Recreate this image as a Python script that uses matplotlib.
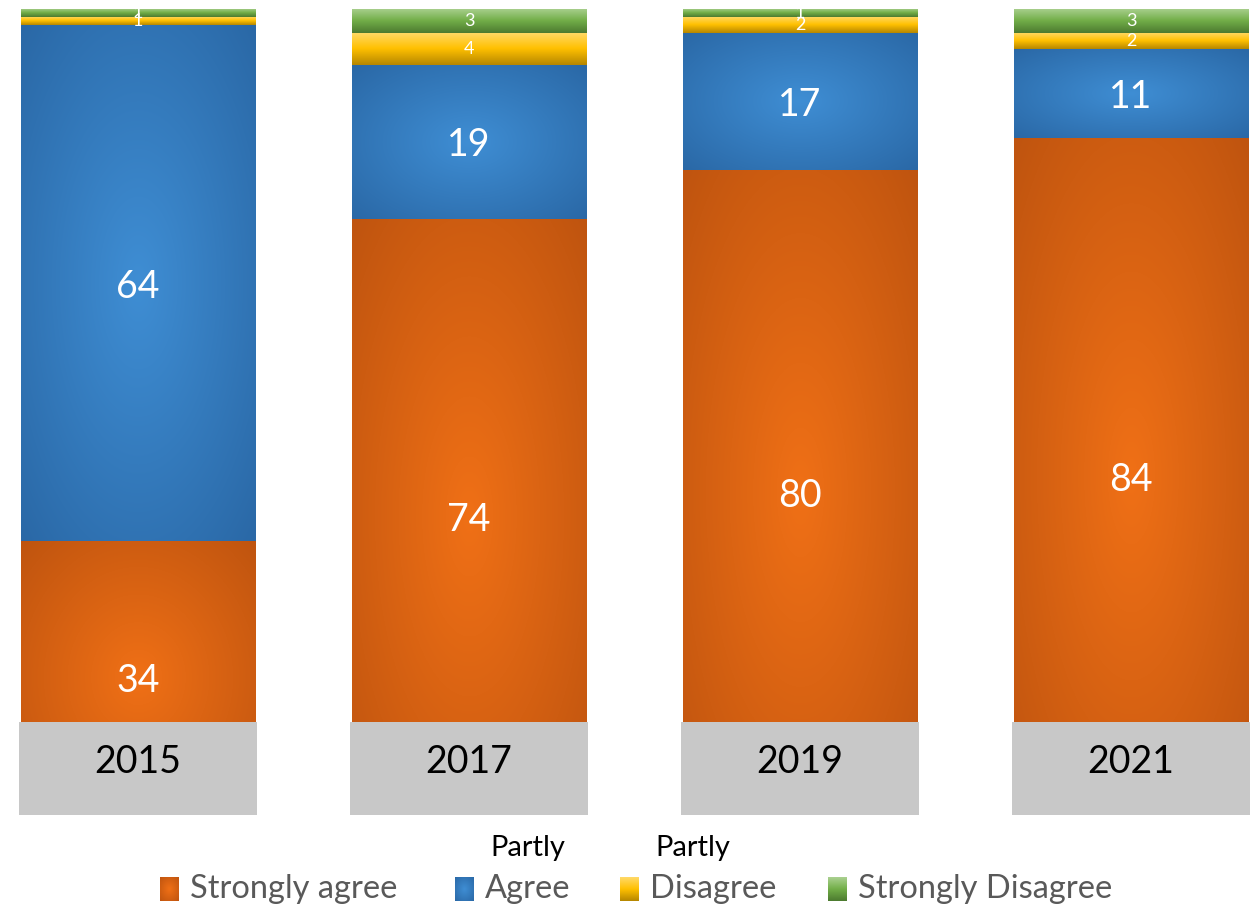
import numpy as np
import matplotlib.pyplot as plt
from matplotlib.colors import to_rgb

plt.rcParams['font.family'] = ['Lato', 'DejaVu Sans']

years = ['2015', '2017', '2019', '2021']
series = ['Strongly agree', 'Agree', 'Disagree', 'Strongly Disagree']
strongly_agree = [34, 74, 80, 84]
agree = [64, 19, 17, 11]
partly_disagree = [1, 4, 2, 2]
strongly_disagree = [1, 3, 1, 3]

# (centre, edge) for the radial ones, (top, mid, bottom) for the linear ones
grad = {
    'Strongly agree': ('radial', ['#F07016', '#BF540F']),
    'Agree': ('radial', ['#3F8ED4', '#2A68A6']),
    'Disagree': ('linear', ['#FFDA6A', '#FFC000', '#B58600']),
    'Strongly Disagree': ('linear', ['#ABD191', '#72AE48', '#4C7A30']),
}


def gradient_img(kind, cols, n=200):
    cols = np.array([to_rgb(c) for c in cols])
    if kind == 'radial':
        yy, xx = np.mgrid[-1:1:n * 1j, -1:1:n * 1j]
        d = np.clip(np.sqrt(xx ** 2 + yy ** 2) / np.sqrt(2), 0, 1)[..., None]
        return cols[0] * (1 - d) + cols[1] * d
    t = np.linspace(0, 1, n)[:, None]
    img = np.where(t < 0.5,
                   cols[0] * (1 - t * 2) + cols[1] * (t * 2),
                   cols[1] * (2 - t * 2) + cols[2] * (t * 2 - 1))
    return np.repeat(img[:, None, :], 4, axis=1)


W, H = 1251, 906
fig = plt.figure(figsize=(W / 100, H / 100), dpi=100)
ax = fig.add_axes([0, 91 / H, 1, (815 - 9) / H])
ax.axis('off')

x = np.arange(len(years))
width = 0.707
data = [strongly_agree, agree, partly_disagree, strongly_disagree]
bottom = np.zeros(len(years))
for name, vals in zip(series, data):
    kind, cols = grad[name]
    bars = ax.bar(x, vals, width, bottom=bottom, color=cols[1], linewidth=0)
    for rect, v in zip(bars, vals):
        x0, y0 = rect.get_x(), rect.get_y()
        w, h = rect.get_width(), rect.get_height()
        im = ax.imshow(gradient_img(kind, cols), extent=(x0, x0 + w, y0, y0 + h),
                       origin='upper', aspect='auto', interpolation='bilinear', zorder=2)
        im.set_clip_path(rect)
        big = v >= 5
        ax.text(x0 + w / 2, y0 + h / 2, str(v), ha='center',
                va='center_baseline' if big else 'center',
                color='white', fontsize=27 if big else 13, zorder=4)
    bottom += np.array(vals)

# grey year boxes covering the bar feet
for xi, yr in zip(x, years):
    ax.bar(xi, 11.6, 0.72, bottom=0, color='#C8C8C8', linewidth=0, zorder=3)
    ax.text(xi, 6.6, yr, ha='center', va='center', fontsize=27, color='black', zorder=4)

ax.set_xlim(-138 / 331, -138 / 331 + W / 331)
ax.set_ylim(0, 100)

# legend
lg = fig.add_axes([0, 0, 1, 1])
lg.axis('off')
leg_x = [160, 455, 620, 828]
for lx, name in zip(leg_x, series):
    kind, cols = grad[name]
    lg.imshow(gradient_img(kind, cols), extent=(lx, lx + 19, 901, 877),
              aspect='auto', interpolation='bilinear')
    lg.text(lx + 30, 889, name, ha='left', va='center', fontsize=23.5, color='#595959')
for lx in [leg_x[1], leg_x[2]]:
    lg.text(lx + 35, 848, 'Partly', ha='left', va='center', fontsize=21, color='black')
lg.set_xlim(0, W)
lg.set_ylim(H, 0)

fig.savefig('out.png', dpi=100)
